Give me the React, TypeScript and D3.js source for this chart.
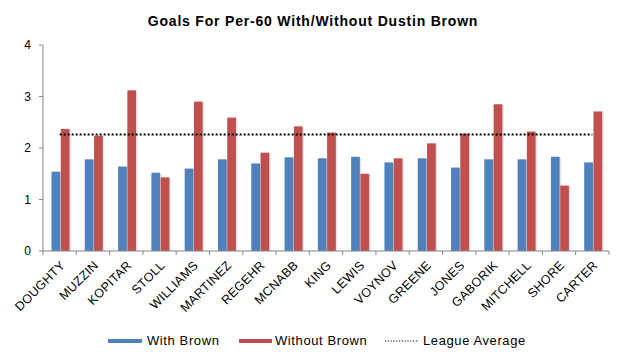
import React, { useEffect, useRef } from 'react';
import * as d3 from 'd3';

// chart data
const players = ["DOUGHTY", "MUZZIN", "KOPITAR", "STOLL", "WILLIAMS", "MARTINEZ", "REGEHR", "MCNABB", "KING", "LEWIS", "VOYNOV", "GREENE", "JONES", "GABORIK", "MITCHELL", "SHORE", "CARTER"];
const withBrown = [1.54, 1.78, 1.64, 1.52, 1.60, 1.78, 1.70, 1.82, 1.80, 1.83, 1.72, 1.80, 1.62, 1.78, 1.78, 1.83, 1.72];
const withoutBrown = [2.37, 2.24, 3.12, 1.43, 2.90, 2.59, 1.91, 2.42, 2.30, 1.50, 1.80, 2.09, 2.28, 2.85, 2.32, 1.27, 2.71];
const leagueAverage = 2.26;
const yTicks = [0, 1, 2, 3, 4];

const FONT = "'Liberation Sans', Arial, sans-serif";

function App() {
  const svgRef = useRef<SVGSVGElement>(null);

  useEffect(() => {
    const width = 624;
    const height = 358;
    const margin = { top: 45, right: 15, bottom: 107, left: 43 };
    const innerW = width - margin.left - margin.right;
    const innerH = height - margin.top - margin.bottom;

    const svg = d3.select(svgRef.current);
    svg.selectAll("*").remove();
    svg.attr("width", width).attr("height", height);

    // Title
    svg.append("text")
      .attr("x", 313)
      .attr("y", 26)
      .attr("text-anchor", "middle")
      .style("font-family", FONT)
      .style("font-size", "14px")
      .style("letter-spacing", "0.8px")
      .style("font-weight", "bold")
      .text("Goals For Per-60 With/Without Dustin Brown");

    const g = svg.append("g")
      .attr("transform", `translate(${margin.left},${margin.top})`);

    // Scales
    const x = d3.scaleBand().domain(players).range([0, innerW]);
    const inner = d3.scaleBand().domain(["with", "without"]).range([8.5, 26.5]).paddingInner(0.06);
    const y = d3.scaleLinear().domain([0, 4]).range([innerH, 0]);

    const series = [
      { key: "with", values: withBrown, color: "#4F81BD" },
      { key: "without", values: withoutBrown, color: "#C0504D" },
    ];

    // shadows then bars
    series.forEach(s => {
      g.selectAll(`.shadow-${s.key}`)
        .data(s.values)
        .enter().append("rect")
        .attr("x", (d, i) => (x(players[i]) as number) + (inner(s.key) as number) + 1.5)
        .attr("y", d => y(d) + 1)
        .attr("width", inner.bandwidth())
        .attr("height", d => innerH - y(d) - 1)
        .attr("fill", "#d9d9d9")
        .attr("opacity", 0.7);
    });
    series.forEach(s => {
      g.selectAll(`.bar-${s.key}`)
        .data(s.values)
        .enter().append("rect")
        .attr("x", (d, i) => (x(players[i]) as number) + (inner(s.key) as number))
        .attr("y", d => y(d))
        .attr("width", inner.bandwidth())
        .attr("height", d => innerH - y(d))
        .attr("fill", s.color);
    });

    // League average line
    const half = x.bandwidth() / 2;
    g.append("line")
      .attr("x1", (x(players[0]) as number) + half)
      .attr("x2", (x(players[players.length - 1]) as number) + half)
      .attr("y1", y(leagueAverage))
      .attr("y2", y(leagueAverage))
      .attr("stroke", "#000")
      .attr("stroke-width", 2)
      .attr("stroke-dasharray", "2,2");

    // Y axis
    const axisColor = "#868686";
    g.append("line")
      .attr("x1", 0).attr("x2", 0).attr("y1", 0).attr("y2", innerH)
      .attr("stroke", axisColor);
    yTicks.forEach(t => {
      g.append("line")
        .attr("x1", -4).attr("x2", 0).attr("y1", y(t)).attr("y2", y(t))
        .attr("stroke", axisColor);
      g.append("text")
        .attr("x", -12)
        .attr("y", y(t))
        .attr("dy", "0.35em")
        .attr("text-anchor", "end")
        .style("font-family", FONT)
        .style("font-size", "12px")
        .attr("fill", "#000")
        .text(t);
    });

    // X axis
    g.append("line")
      .attr("x1", 0).attr("x2", innerW).attr("y1", innerH).attr("y2", innerH)
      .attr("stroke", axisColor);
    d3.range(players.length + 1).forEach(i => {
      const px = i * x.step();
      g.append("line")
        .attr("x1", px).attr("x2", px).attr("y1", innerH).attr("y2", innerH + 4)
        .attr("stroke", axisColor);
    });
    players.forEach(p => {
      const cx = (x(p) as number) + half + 3;
      g.append("text")
        .attr("transform", `translate(${cx},${innerH + 12}) rotate(-45)`)
        .attr("text-anchor", "end")
        .attr("dy", "0.35em")
        .style("font-family", FONT)
        .style("font-size", "12.5px")
        .style("letter-spacing", "0.3px")
        .text(p);
    });

    // Legend
    const ly = 341;
    const tb = 345;
    const legend = svg.append("g")
      .style("font-family", FONT)
      .style("font-size", "13px")
      .style("letter-spacing", "0.6px");
    legend.append("rect").attr("x", 108).attr("y", ly - 2).attr("width", 34).attr("height", 4).attr("fill", "#4F81BD");
    legend.append("text").attr("x", 147).attr("y", tb).text("With Brown");
    legend.append("rect").attr("x", 239).attr("y", ly - 2).attr("width", 33).attr("height", 4).attr("fill", "#C0504D");
    legend.append("text").attr("x", 275).attr("y", tb).text("Without Brown");
    legend.append("line").attr("x1", 385).attr("x2", 419).attr("y1", ly).attr("y2", ly)
      .attr("stroke", "#000").attr("stroke-width", 1.2).attr("stroke-dasharray", "1.2,1.6");
    legend.append("text").attr("x", 423).attr("y", tb).text("League Average");
  }, []);

  return (
    <div style={{ position: "absolute", left: 0, top: 0 }}>
      <svg ref={svgRef}></svg>
    </div>
  );
}

export default App;
